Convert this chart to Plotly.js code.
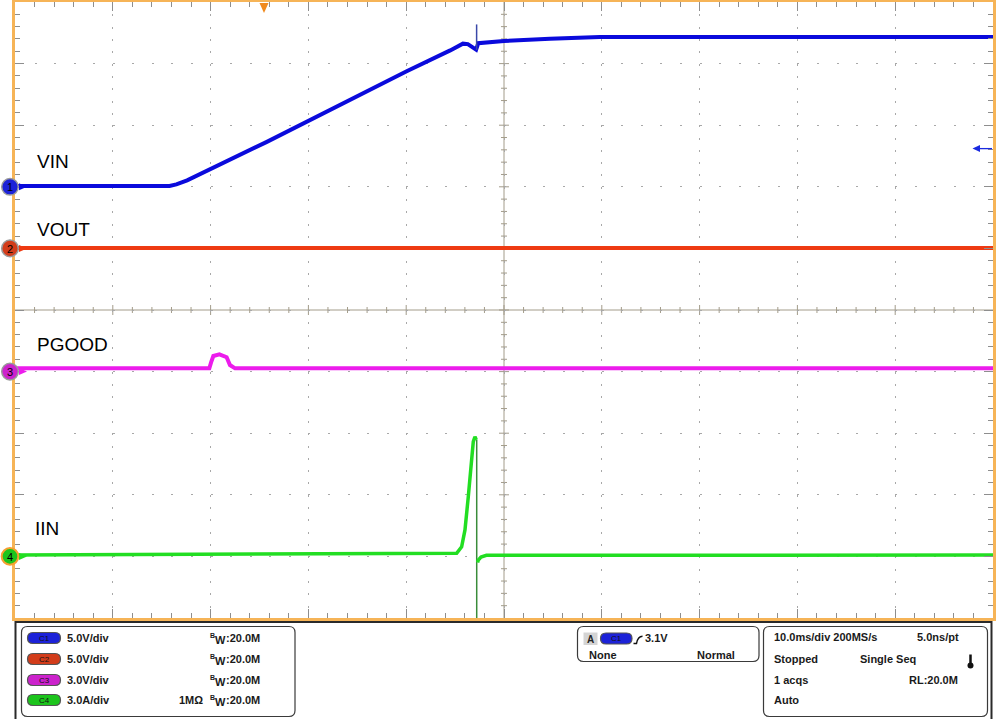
<!DOCTYPE html>
<html><head><meta charset="utf-8">
<script src="https://cdn.plot.ly/plotly-3.0.1.min.js"></script>
<style>html,body{margin:0;padding:0;background:#fff;} #chart{width:1000px;height:719px;}</style>
</head><body><div id="chart"></div>
<script>
// ---------------- data (read from the scope capture) ----------------
// time in ms, 10 ms/div, 10 divisions
const vinT = [0, 15.8, 16.5, 17.6, 25.7, 34.3, 40.1, 44.5, 45.3, 45.8, 46.3, 46.8, 47.15, 47.37, 50.0, 54.7, 59.8, 70, 100];
const vinV = [0.07, 0.07, 0.2, 0.52, 3.63, 7.1, 9.4, 11.07, 11.45, 11.62, 11.58, 11.35, 11.13, 11.66, 11.83, 12.02, 12.15, 12.15, 12.15];
const vinSpikeT = [47.2, 47.2];
const vinSpikeV = [11.1, 13.18];

const voutT = [0, 100];
const voutV = [0.03, 0.03];

const pgT = [0, 19.87, 20.05, 20.28, 20.9, 21.64, 21.98, 22.5, 100];
const pgV = [0.16, 0.16, 0.45, 0.76, 0.84, 0.70, 0.32, 0.16, 0.16];

const iinT = [0, 45.16, 45.67, 46.01, 46.35, 46.63, 46.86, 47.03, 47.17, null, 47.3, 47.37, 47.65, 48.2, 100];
const iinA = [0.07, 0.15, 0.47, 1.29, 2.91, 4.37, 5.59, 5.83, 5.67, null, -0.3, -0.18, -0.03, 0.05, 0.07];
const iinDropT = [47.21, 47.21];
const iinDropA = [5.67, -4.5];

const channelNames = ['VIN', 'VOUT', 'PGOOD', 'IIN'];
const channelScales = [5, 5, 3, 3];      // units per division
const channelOffsets = [7, 6, 4, 1];     // ground level, divisions from bottom
const channelScaleText = ['5.0V/div', '5.0V/div', '3.0V/div', '3.0A/div'];
const triggerLevel = 3.1;                 // V on C1
const timeRange = [0, 100];
const timePerDiv = 10;

// ---------------- geometry helpers ----------------
const L = 15, R = 993, T = 2, B = 618;
const PW = R - L, PH = B - T;
const px = x => (x - L) / PW;
const py = y => (B - y) / PH;
const P = (x, y) => px(x).toFixed(5) + ',' + py(y).toFixed(5);
function rr(x0, y0, x1, y1, r) {
  return 'M' + P(x0 + r, y0) + 'L' + P(x1 - r, y0) + 'Q' + P(x1, y0) + ' ' + P(x1, y0 + r) +
    'L' + P(x1, y1 - r) + 'Q' + P(x1, y1) + ' ' + P(x1 - r, y1) +
    'L' + P(x0 + r, y1) + 'Q' + P(x0, y1) + ' ' + P(x0, y1 - r) +
    'L' + P(x0, y0 + r) + 'Q' + P(x0, y0) + ' ' + P(x0 + r, y0) + 'Z';
}
const groundPx = channelOffsets.map(o => B - o * PH / 10);
const chRange = i => [-channelOffsets[i] * channelScales[i], (10 - channelOffsets[i]) * channelScales[i]];

const colors = ['#0A0ADC', '#EE3A12', '#EC1CEC', '#22DE22'];
const pillColors = ['#1C22D8', '#D23C1A', '#CC22CC', '#1CC41C'];

// ---------------- traces ----------------
const traces = [
  {x: vinT, y: vinV, yaxis: 'y', line: {color: colors[0], width: 4}},
  {x: vinSpikeT, y: vinSpikeV, yaxis: 'y', line: {color: '#3A48A8', width: 1.5}},
  {x: voutT, y: voutV, yaxis: 'y2', line: {color: colors[1], width: 4}},
  {x: pgT, y: pgV, yaxis: 'y3', line: {color: colors[2], width: 4}},
  {x: iinDropT, y: iinDropA, yaxis: 'y4', line: {color: '#3A8C3A', width: 1.5}},
  {x: iinT, y: iinA, yaxis: 'y4', line: {color: colors[3], width: 3.5}, connectgaps: false}
].map(t => Object.assign({type: 'scatter', mode: 'lines', xaxis: 'x', hoverinfo: 'skip', showlegend: false}, t));

// ---------------- axes ----------------
const orange = '#F6B457', tickC = '#8E8E8E', centerC = '#A39C8A', gridC = '#A8A8A8';
const xDash = '2px,' + (PH / 50 - 2).toFixed(2) + 'px';
const yDash = '2px,' + (PW / 50 - 2).toFixed(2) + 'px';
const layout = {
  width: 1000, height: 719,
  margin: {l: L, r: 1000 - R, t: T, b: 719 - B, pad: 0},
  paper_bgcolor: '#fff', plot_bgcolor: 'rgba(0,0,0,0)',
  showlegend: false,
  xaxis: {range: timeRange, dtick: timePerDiv, tick0: 0, showgrid: true, gridcolor: gridC, griddash: xDash, gridwidth: 1,
    showline: true, linecolor: orange, linewidth: 3, mirror: 'ticks', ticks: 'inside', ticklen: 9, tickcolor: tickC, tickwidth: 1,
    showticklabels: false, zeroline: false, fixedrange: true,
    minor: {dtick: timePerDiv / 5, tick0: 0, ticks: 'inside', ticklen: 5, tickcolor: tickC, showgrid: false}},
  // main y axis = channel 1 scale (one grid division per channel-1 division)
  yaxis: {range: chRange(0), dtick: channelScales[0], tick0: 0, showgrid: true, gridcolor: gridC, griddash: yDash, gridwidth: 1,
    showline: true, linecolor: orange, linewidth: 3, mirror: 'ticks', ticks: 'inside', ticklen: 9, tickcolor: tickC, tickwidth: 1,
    showticklabels: false, zeroline: false, fixedrange: true,
    minor: {dtick: channelScales[0] / 5, tick0: 0, ticks: 'inside', ticklen: 5, tickcolor: tickC, showgrid: false}},
  shapes: [], annotations: []
};
for (let i = 1; i < 4; i++) {
  layout['yaxis' + (i + 1)] = {overlaying: 'y', visible: false, fixedrange: true, range: chRange(i)};
}

const S = layout.shapes, A = layout.annotations;

// centre cross (graticule) with its minor tick marks, under the traces
(function () {
  const cy = T + PH / 2, cx = L + PW / 2;
  let h = 'M' + P(L, cy) + 'L' + P(R, cy);
  let v = 'M' + P(cx, T) + 'L' + P(cx, B);
  for (let k = 1; k < 50; k++) {
    const len = (k % 5 === 0) ? 5 : 3;
    const x = L + k * PW / 50, y = T + k * PH / 50;
    h += 'M' + P(x, cy - len) + 'L' + P(x, cy + len);
    v += 'M' + P(cx - len, y) + 'L' + P(cx + len, y);
  }
  S.push({type: 'path', xref: 'paper', yref: 'paper', layer: 'below', path: h, line: {color: centerC, width: 1}});
  S.push({type: 'path', xref: 'paper', yref: 'paper', layer: 'below', path: v, line: {color: centerC, width: 1}});
})();

const fam = 'Liberation Sans, Arial, sans-serif';
const font = {family: fam, size: 11, color: '#1a1a1a'};
function txt(text, x, y, opt) {
  A.push(Object.assign({text: text, x: px(x), y: py(y), xref: 'paper', yref: 'paper', showarrow: false,
    xanchor: 'left', yanchor: 'middle', font: font}, opt || {}));
}

// channel labels on the screen
const labelPos = [[35, 161], [35, 228], [35, 343], [33, 527]];
channelNames.forEach((n, i) => txt(n, labelPos[i][0], labelPos[i][1] + 1,
  {font: {family: fam, size: 19, color: '#000'}}));

// ground markers on the left edge
channelNames.forEach((n, i) => {
  const gy = groundPx[i];
  S.push({type: 'path', xref: 'paper', yref: 'paper', layer: 'above',
    path: 'M' + P(19, gy - 3.5) + 'L' + P(27, gy) + 'L' + P(19, gy + 3.5) + 'Z',
    fillcolor: colors[i], line: {width: 0}});
  S.push({type: 'circle', xref: 'paper', yref: 'paper', layer: 'above',
    x0: px(1.7), x1: px(18.3), y0: py(gy + 8.3), y1: py(gy - 8.3),
    fillcolor: pillColors[i], line: {color: i === 3 ? '#F5A030' : '#9A9A9A', width: i === 3 ? 2 : 1.5}});
  txt(String(i + 1), 10, gy + 0.5, {xanchor: 'center', font: {family: fam, size: 11, color: '#000'}});
});

// trigger position marker (top) and trigger level arrow (right)
S.push({type: 'path', xref: 'paper', yref: 'paper', layer: 'above',
  path: 'M' + P(259.5, 3) + 'L' + P(268.5, 3) + 'L' + P(264, 13) + 'Z', fillcolor: '#F08A1E', line: {width: 0}});
const trigPx = B - (channelOffsets[0] + triggerLevel / channelScales[0]) * PH / 10;
S.push({type: 'path', xref: 'paper', yref: 'paper', layer: 'above',
  path: 'M' + P(972.5, trigPx) + 'L' + P(980, trigPx - 3.5) + 'L' + P(980, trigPx + 3.5) + 'Z', fillcolor: '#1a2ae0', line: {width: 0}});
S.push({type: 'line', xref: 'paper', yref: 'paper', layer: 'above',
  x0: px(979), x1: px(992), y0: py(trigPx), y1: py(trigPx), line: {color: '#1a2ae0', width: 1.3}});

// ---------------- bottom information panel ----------------
S.push({type: 'rect', xref: 'paper', yref: 'paper', x0: px(15.5), x1: px(991.5), y0: py(622), y1: py(721),
  line: {color: '#2a2a2a', width: 2}, fillcolor: 'rgba(0,0,0,0)'});
S.push({type: 'path', xref: 'paper', yref: 'paper', path: rr(21.5, 626.5, 295, 716.5, 6), line: {color: '#3a3a3a', width: 1.2}});
S.push({type: 'path', xref: 'paper', yref: 'paper', path: rr(577.5, 626.5, 759, 661.5, 6), line: {color: '#3a3a3a', width: 1.2}});
S.push({type: 'path', xref: 'paper', yref: 'paper', path: rr(763.5, 626.5, 987.5, 716.5, 6), line: {color: '#3a3a3a', width: 1.2}});

function pill(x0, x1, yc, color, label) {
  S.push({type: 'path', xref: 'paper', yref: 'paper', path: rr(x0, yc - 5.5, x1, yc + 5.5, 5.5),
    fillcolor: color, line: {color: '#555', width: 1.2}});
  txt(label, (x0 + x1) / 2, yc, {xanchor: 'center', font: {family: fam, size: 8, color: '#111'}});
}
const rows = [638, 659, 680, 700];
channelNames.forEach((n, i) => {
  pill(27.5, 60.5, rows[i], pillColors[i], 'C' + (i + 1));
  txt('<b>' + channelScaleText[i] + '</b>', 65, rows[i]);
  txt('<b>B</b>', 208, rows[i] - 3, {font: {family: fam, size: 7, color: '#1a1a1a'}});
  txt('<b>W</b>', 212.5, rows[i] + 1.5, {font: {family: fam, size: 11, color: '#1a1a1a'}});
  txt('<b>:20.0M</b>', 223.5, rows[i]);
});
txt('<b>1MΩ</b>', 176.5, rows[3]);

// trigger box
S.push({type: 'rect', xref: 'paper', yref: 'paper', x0: px(583.5), x1: px(597.5), y0: py(645), y1: py(632.5),
  fillcolor: '#D4D4D4', line: {width: 0}});
txt('<b>A</b>', 590.5, 639, {xanchor: 'center', font: {family: fam, size: 10, color: '#222'}});
pill(600.5, 632, 638.5, pillColors[0], 'C1');
S.push({type: 'path', xref: 'paper', yref: 'paper', path: 'M' + P(633.5, 643.5) + 'L' + P(636.5, 643.5) + 'Q' + P(637.8, 636.2) + ' ' + P(642.5, 636.2),
  line: {color: '#111', width: 1.4}});
txt('<b>3.1V</b>', 643, 638);
txt('<b>None</b>', 587, 655);
txt('<b>Normal</b>', 737, 655, {xanchor: 'right'});

// timebase box
txt('<b>10.0ms/div 200MS/s</b>', 772, 637);
txt('<b>5.0ns/pt</b>', 961, 637, {xanchor: 'right'});
txt('<b>Stopped</b>', 772, 659);
txt('<b>Single Seq</b>', 858, 659);
txt('<b>1 acqs</b>', 772, 680);
txt('<b>RL:20.0M</b>', 960, 680, {xanchor: 'right'});
txt('<b>Auto</b>', 772, 700);
// thermometer icon
S.push({type: 'line', xref: 'paper', yref: 'paper', x0: px(970.5), x1: px(970.5), y0: py(654.5), y1: py(665), line: {color: '#111', width: 2.5}});
S.push({type: 'circle', xref: 'paper', yref: 'paper', x0: px(967.5), x1: px(973.5), y0: py(668.5), y1: py(662.5), fillcolor: '#111', line: {width: 0}});

Plotly.newPlot('chart', traces, layout, {staticPlot: true, displayModeBar: false});
</script></body></html>
